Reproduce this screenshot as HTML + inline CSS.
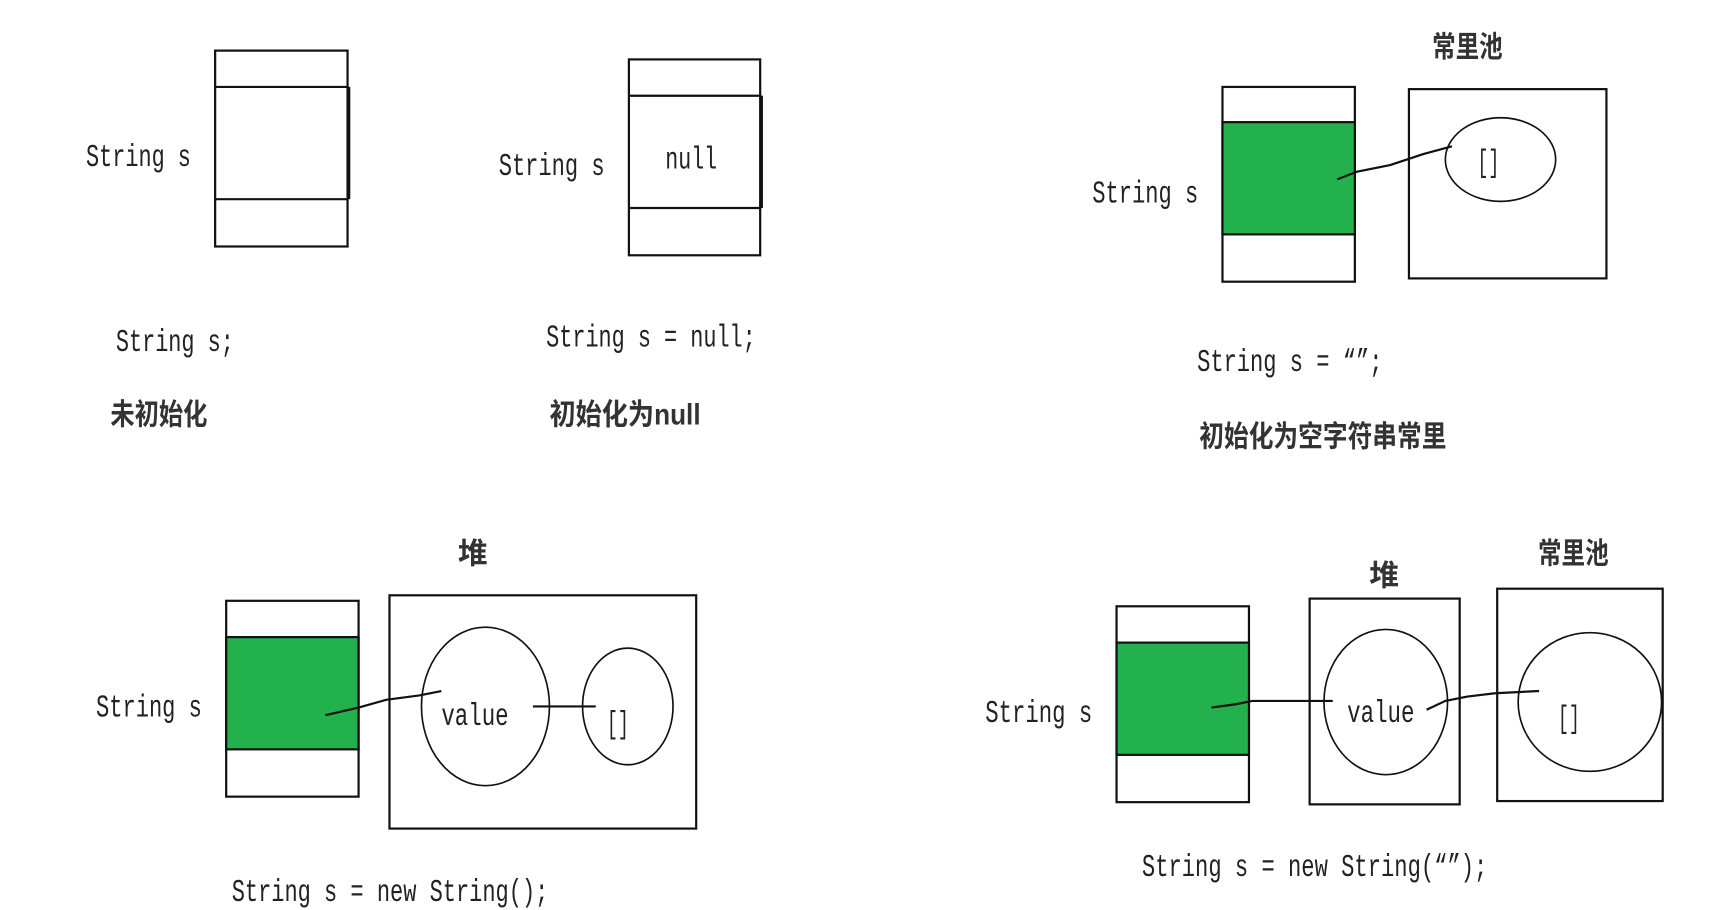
<!DOCTYPE html>
<html><head><meta charset="utf-8"><style>
html,body{margin:0;padding:0;background:#fff;overflow:hidden}
svg{display:block}
text{font-family:"Liberation Mono","Noto Sans CJK SC",monospace;font-size:29px;fill:#222}
.c{font-family:"Liberation Sans","Noto Sans CJK SC",sans-serif;font-size:27px;font-weight:bold;fill:#333}
</style></head><body>
<svg width="1730" height="910" viewBox="0 0 1568 827" preserveAspectRatio="none" xmlns="http://www.w3.org/2000/svg">
<g fill="none" stroke="#111" stroke-width="2">
<rect x="195" y="46" width="120" height="178"/>
<line x1="195" y1="79" x2="316" y2="79"/><line x1="195" y1="181" x2="316" y2="181"/>
<line x1="316" y1="79" x2="316" y2="181" stroke-width="3"/>
<rect x="570" y="54" width="119" height="178"/>
<line x1="570" y1="87" x2="690" y2="87"/><line x1="570" y1="189" x2="690" y2="189"/>
<line x1="690" y1="87" x2="690" y2="189" stroke-width="3"/>
<rect x="1108" y="79" width="120" height="177"/>
<rect x="1108" y="111" width="120" height="102" fill="#22b14c"/>
<rect x="1277" y="81" width="179" height="172"/>
<ellipse cx="1360" cy="145" rx="50" ry="38" stroke-width="1.5"/>
<polyline points="1212,163 1230,156 1260,150 1290,140 1316,133"/>
<rect x="205" y="546" width="120" height="178"/>
<rect x="205" y="579" width="120" height="102" fill="#22b14c"/>
<rect x="353" y="541" width="278" height="212"/>
<ellipse cx="440" cy="642" rx="58" ry="72" stroke-width="1.5"/>
<ellipse cx="569" cy="642" rx="41" ry="53" stroke-width="1.5"/>
<polyline points="295,650 325,643 350,636 380,632 400,628"/>
<line x1="483" y1="642" x2="540" y2="642"/>
<rect x="1012" y="551" width="120" height="178"/>
<rect x="1012" y="584" width="120" height="102" fill="#22b14c"/>
<rect x="1187" y="544" width="136" height="187"/>
<rect x="1357" y="535" width="150" height="193"/>
<ellipse cx="1256" cy="638" rx="56" ry="66" stroke-width="1.5"/>
<ellipse cx="1441" cy="638" rx="65" ry="63" stroke-width="1.5"/>
<polyline points="1098,643 1120,640 1135,637 1208,637"/>
<polyline points="1293,645 1310,637 1330,633 1355,630 1395,628"/>
</g>
<g>
<text x="78" y="151" textLength="95" lengthAdjust="spacingAndGlyphs">String s</text>
<text x="105" y="319" textLength="107" lengthAdjust="spacingAndGlyphs">String s;</text>
<text class="c" x="100" y="386" textLength="88" lengthAdjust="spacingAndGlyphs">未初始化</text>

<text x="452" y="159" textLength="96" lengthAdjust="spacingAndGlyphs">String s</text>
<text x="603" y="153" textLength="47" lengthAdjust="spacingAndGlyphs">null</text>
<text x="495" y="315" textLength="190" lengthAdjust="spacingAndGlyphs">String s = null;</text>
<text class="c" x="498" y="386" textLength="137" lengthAdjust="spacingAndGlyphs">初始化为null</text>

<text class="c" x="1298" y="52" textLength="64" lengthAdjust="spacingAndGlyphs">常里池</text>
<text x="990" y="184" textLength="96" lengthAdjust="spacingAndGlyphs">String s</text>
<text x="1339" y="156" textLength="20" lengthAdjust="spacingAndGlyphs">[]</text>
<text x="1085" y="337" textLength="168" lengthAdjust="spacingAndGlyphs">String s = “”;</text>
<text class="c" x="1087" y="406" textLength="224" lengthAdjust="spacingAndGlyphs">初始化为空字符串常里</text>

<text class="c" x="415" y="512">堆</text>
<text x="87" y="651" textLength="96" lengthAdjust="spacingAndGlyphs">String s</text>
<text x="400" y="659" textLength="61" lengthAdjust="spacingAndGlyphs">value</text>
<text x="550" y="666" textLength="20" lengthAdjust="spacingAndGlyphs">[]</text>
<text x="210" y="819" textLength="287" lengthAdjust="spacingAndGlyphs">String s = new String();</text>

<text class="c" x="1241" y="532">堆</text>
<text class="c" x="1394" y="512" textLength="64" lengthAdjust="spacingAndGlyphs">常里池</text>
<text x="893" y="656" textLength="97" lengthAdjust="spacingAndGlyphs">String s</text>
<text x="1221" y="656" textLength="61" lengthAdjust="spacingAndGlyphs">value</text>
<text x="1412" y="661" textLength="20" lengthAdjust="spacingAndGlyphs">[]</text>
<text x="1035" y="796" textLength="313" lengthAdjust="spacingAndGlyphs">String s = new String(“”);</text>
</g>
</svg>
</body></html>
